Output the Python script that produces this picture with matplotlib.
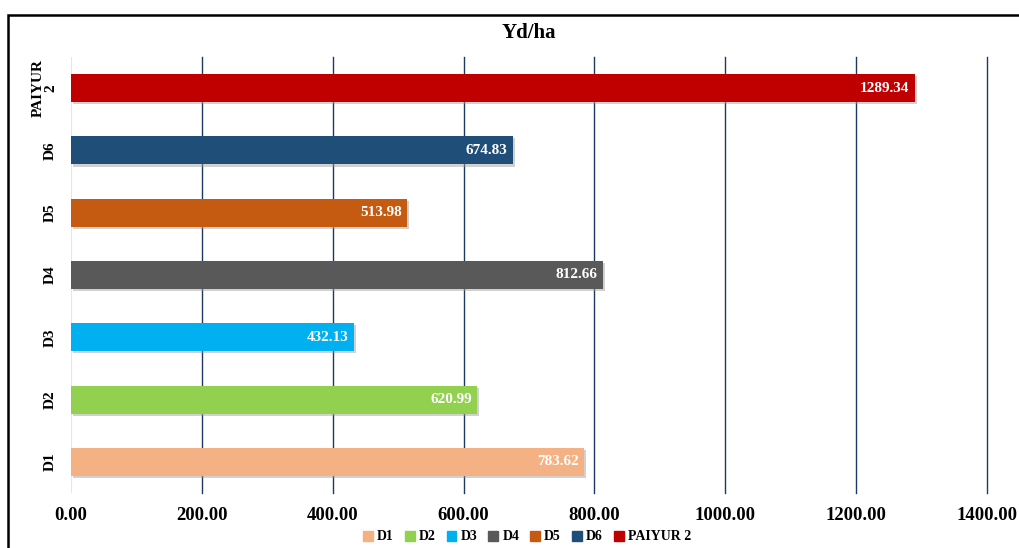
import matplotlib
matplotlib.use("Agg")
import matplotlib.pyplot as plt
import matplotlib.patheffects as pe
from matplotlib.patches import Rectangle

categories = ["D1", "D2", "D3", "D4", "D5", "D6", "PAIYUR 2"]
tick_labels = ["D1", "D2", "D3", "D4", "D5", "D6", "PAIYUR\n2"]
values = [783.62, 620.99, 432.13, 812.66, 513.98, 674.83, 1289.34]
colors = ["#F4B183", "#92D050", "#00B0F0", "#595959", "#C55A11", "#1F4E79", "#C00000"]
xticks = [0, 200, 400, 600, 800, 1000, 1200, 1400]

plt.rcParams['font.family'] = ['Liberation Serif', 'DejaVu Serif']

fig = plt.figure(figsize=(10.19, 5.48), dpi=100)
ax = fig.add_axes([71/1019, 1-493/548, (987-71)/1019, (493-57)/548])

# outer frame
fig.patches.append(Rectangle((8/1019, -0.05), 1.2, 1-15/548+0.05, transform=fig.transFigure,
                             fill=False, edgecolor="black", linewidth=1.8, zorder=0))

ypos = list(range(len(categories)))
bars = ax.barh(ypos, values, height=0.45, color=colors, zorder=3,
               path_effects=[pe.SimplePatchShadow(offset=(1.5, -1.5), shadow_rgbFace="#999999", alpha=0.45), pe.Normal()])
for y, v in zip(ypos, values):
    ax.text(v - 8, y, f"{v:.2f}", ha="right", va="center", color="white",
            fontsize=11, fontweight="bold", zorder=4)

ax.set_xlim(0, 1400)
ax.set_ylim(-0.5, len(categories) - 0.5)
ax.set_xticks(xticks)
ax.set_xticklabels([f"{t:.2f}" for t in xticks], fontsize=13.5, fontweight="bold")
ax.set_yticks(ypos)
ax.set_yticklabels(tick_labels, fontsize=11, fontweight="bold", rotation=90, va="center",
                   multialignment="center", linespacing=0.95)
ax.tick_params(axis="both", length=0)
ax.tick_params(axis="x", pad=10)
ax.tick_params(axis="y", pad=10)
for s in ax.spines.values():
    s.set_visible(False)
for t in xticks[1:]:
    ax.axvline(t, color="#203864", linewidth=1, zorder=0, clip_on=False)
ax.axvline(0, color="#E6E6E6", linewidth=0.8, zorder=1)

fig.text(529/1019, 1-33/548, "Yd/ha", ha="center", va="center", fontsize=15, fontweight="bold")

handles = [Rectangle((0, 0), 1, 1, color=c) for c in colors]
fig.legend(handles, categories, loc="center", bbox_to_anchor=(527/1019, 1-537/548), ncol=7,
           frameon=False, prop={"size": 10, "weight": "bold"}, handlelength=0.7, handleheight=0.7,
           handletextpad=0.3, columnspacing=0.8)

fig.savefig("out.png", dpi=100)
